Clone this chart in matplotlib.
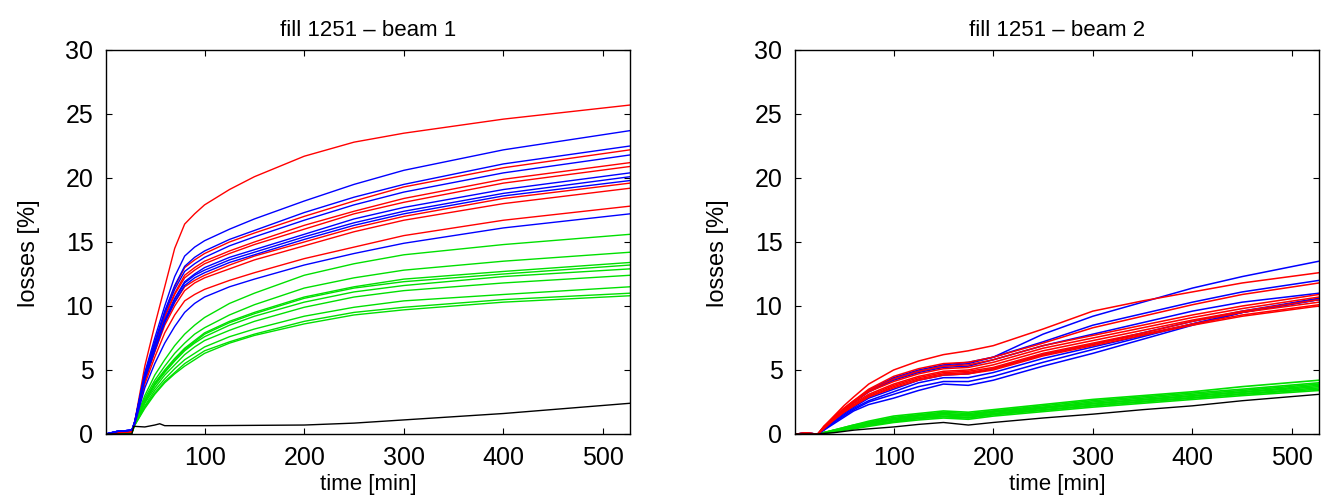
import matplotlib
matplotlib.use("Agg")
import matplotlib.pyplot as plt

plt.rcParams['font.family'] = ['Liberation Sans', 'DejaVu Sans']

# ---- beam 1 (left) ----
t_b1 = [1, 12, 27, 30, 40, 50, 60, 70, 80, 90, 100, 125, 150, 200, 250, 300, 400, 527]

b1_red = [
    [0, 0.1, 0.2, 1.0, 5.3, 8.5, 11.5, 14.5, 16.4, 17.2, 17.9, 19.1, 20.1, 21.7, 22.8, 23.5, 24.6, 25.7],
    [0, 0.1, 0.2, 1.0, 4.6, 7.1, 9.5, 11.5, 13.0, 13.6, 14.1, 15.0, 15.7, 17.0, 18.2, 19.3, 20.8, 22.2],
    [0, 0.1, 0.2, 0.9, 4.4, 6.9, 9.2, 11.0, 12.4, 13.0, 13.5, 14.3, 15.0, 16.3, 17.4, 18.4, 19.9, 21.2],
    [0, 0.1, 0.2, 0.9, 4.4, 6.8, 9.1, 10.9, 12.2, 12.8, 13.3, 14.1, 14.8, 16.0, 17.2, 18.1, 19.6, 20.9],
    [0, 0.1, 0.2, 0.9, 4.2, 6.5, 8.7, 10.3, 11.5, 12.0, 12.4, 13.2, 13.9, 15.0, 16.1, 17.0, 18.4, 19.6],
    [0, 0.1, 0.2, 0.9, 4.1, 6.4, 8.5, 10.0, 11.2, 11.8, 12.2, 12.9, 13.6, 14.7, 15.8, 16.7, 18.0, 19.2],
    [0, 0.1, 0.2, 0.8, 3.9, 6.0, 7.9, 9.3, 10.4, 10.9, 11.3, 12.0, 12.6, 13.7, 14.6, 15.5, 16.7, 17.8],
]
b1_blue = [
    [0, 0.2, 0.3, 1.0, 4.8, 7.5, 10.0, 12.3, 13.9, 14.6, 15.1, 16.0, 16.8, 18.2, 19.5, 20.6, 22.2, 23.7],
    [0, 0.2, 0.3, 1.0, 4.7, 7.2, 9.6, 11.6, 13.1, 13.8, 14.3, 15.2, 15.9, 17.3, 18.5, 19.5, 21.1, 22.5],
    [0, 0.2, 0.3, 1.0, 4.6, 7.0, 9.4, 11.3, 12.7, 13.3, 13.8, 14.7, 15.4, 16.7, 17.9, 18.9, 20.4, 21.8],
    [0, 0.2, 0.3, 0.9, 4.4, 6.7, 8.9, 10.6, 11.9, 12.5, 13.0, 13.8, 14.4, 15.6, 16.8, 17.7, 19.1, 20.4],
    [0, 0.2, 0.3, 0.9, 4.3, 6.6, 8.8, 10.5, 11.8, 12.4, 12.8, 13.6, 14.2, 15.4, 16.5, 17.4, 18.8, 20.1],
    [0, 0.2, 0.3, 0.9, 4.3, 6.5, 8.7, 10.3, 11.6, 12.2, 12.6, 13.4, 14.0, 15.2, 16.3, 17.2, 18.6, 19.8],
    [0, 0.2, 0.3, 0.8, 3.6, 5.5, 7.1, 8.4, 9.5, 10.2, 10.7, 11.5, 12.1, 13.2, 14.1, 14.9, 16.1, 17.2],
]
b1_green = [
    [0, 0, 0.1, 1.0, 3.0, 4.6, 5.8, 6.9, 7.8, 8.5, 9.1, 10.2, 11.0, 12.4, 13.3, 14.0, 14.8, 15.6],
    [0, 0, 0.1, 0.9, 2.8, 4.2, 5.3, 6.3, 7.1, 7.8, 8.3, 9.3, 10.1, 11.4, 12.2, 12.8, 13.5, 14.2],
    [0, 0, 0.1, 0.9, 2.6, 4.0, 5.0, 5.9, 6.7, 7.3, 7.9, 8.8, 9.5, 10.7, 11.5, 12.1, 12.7, 13.4],
    [0, 0, 0.1, 0.9, 2.6, 3.9, 4.9, 5.8, 6.6, 7.2, 7.8, 8.7, 9.4, 10.6, 11.4, 11.9, 12.5, 13.2],
    [0, 0, 0.1, 0.8, 2.5, 3.8, 4.8, 5.7, 6.5, 7.1, 7.6, 8.5, 9.2, 10.3, 11.1, 11.6, 12.3, 12.9],
    [0, 0, 0.1, 0.8, 2.4, 3.6, 4.6, 5.4, 6.2, 6.8, 7.3, 8.1, 8.8, 9.9, 10.7, 11.2, 11.8, 12.4],
    [0, 0, 0.1, 0.8, 2.2, 3.4, 4.3, 5.1, 5.8, 6.3, 6.8, 7.6, 8.2, 9.2, 9.9, 10.4, 10.9, 11.5],
    [0, 0, 0.1, 0.7, 2.1, 3.2, 4.1, 4.8, 5.5, 6.0, 6.5, 7.2, 7.8, 8.8, 9.5, 9.9, 10.5, 11.0],
    [0, 0, 0.1, 0.7, 2.0, 3.1, 4.0, 4.7, 5.3, 5.8, 6.3, 7.1, 7.7, 8.6, 9.3, 9.7, 10.3, 10.8],
]
t_b1_black = [1, 27, 29, 40, 50, 55, 60, 100, 200, 250, 300, 400, 527]
b1_black = [0, 0, 0.6, 0.55, 0.7, 0.8, 0.65, 0.65, 0.7, 0.85, 1.1, 1.6, 2.4]

# ---- beam 2 (right) ----
t_b2 = [1, 12, 24, 30, 40, 50, 60, 75, 100, 125, 150, 175, 200, 250, 300, 350, 400, 450, 527]

b2_red = [
    [0, 0.05, 0, 0.6, 1.4, 2.2, 2.9, 3.9, 5.0, 5.7, 6.2, 6.5, 6.9, 8.2, 9.6, 10.4, 11.1, 11.8, 12.6],
    [0, 0.05, 0, 0.5, 1.3, 2.0, 2.6, 3.5, 4.5, 5.1, 5.5, 5.6, 6.0, 7.1, 8.3, 9.2, 10.1, 10.9, 11.8],
    [0, 0.05, 0, 0.6, 1.3, 2.0, 2.6, 3.4, 4.3, 4.9, 5.3, 5.4, 5.8, 6.9, 7.7, 8.5, 9.3, 10.0, 10.9],
    [0, 0.05, 0, 0.5, 1.3, 1.9, 2.5, 3.3, 4.1, 4.7, 5.1, 5.2, 5.6, 6.7, 7.5, 8.3, 9.1, 9.8, 10.7],
    [0, 0.05, 0, 0.5, 1.2, 1.8, 2.4, 3.1, 3.9, 4.5, 4.9, 5.0, 5.4, 6.5, 7.3, 8.1, 8.9, 9.6, 10.5],
    [0, 0.05, 0, 0.5, 1.2, 1.8, 2.3, 3.0, 3.8, 4.4, 4.8, 4.9, 5.2, 6.3, 7.1, 7.9, 8.8, 9.5, 10.3],
    [0, 0.05, 0, 0.5, 1.1, 1.7, 2.2, 2.9, 3.7, 4.3, 4.7, 4.8, 5.1, 6.2, 7.0, 7.8, 8.6, 9.3, 10.1],
    [0, 0.05, 0, 0.4, 1.1, 1.7, 2.2, 2.9, 3.6, 4.2, 4.6, 4.7, 5.0, 6.1, 6.9, 7.7, 8.5, 9.2, 10.0],
]
b2_blue = [
    [0, 0.05, 0, 0.5, 1.2, 1.9, 2.5, 3.3, 4.3, 4.9, 5.3, 5.5, 6.0, 7.8, 9.2, 10.3, 11.4, 12.3, 13.5],
    [0, 0.05, 0, 0.5, 1.2, 1.9, 2.5, 3.4, 4.4, 5.0, 5.4, 5.6, 6.0, 7.2, 8.5, 9.4, 10.3, 11.1, 12.0],
    [0, 0.05, 0, 0.5, 1.2, 1.9, 2.5, 3.3, 4.2, 4.8, 5.2, 5.3, 5.8, 6.9, 7.8, 8.7, 9.6, 10.3, 11.0],
    [0, 0.05, 0, 0.4, 1.0, 1.6, 2.1, 2.8, 3.5, 4.2, 4.6, 4.7, 5.1, 6.2, 7.0, 7.9, 8.8, 9.6, 10.6],
    [0, 0.05, 0, 0.4, 0.9, 1.5, 2.0, 2.6, 3.3, 4.0, 4.4, 4.4, 4.8, 5.9, 6.8, 7.7, 8.6, 9.5, 10.5],
    [0, 0.05, 0, 0.3, 0.9, 1.4, 1.9, 2.5, 3.1, 3.7, 4.1, 4.1, 4.5, 5.6, 6.6, 7.6, 8.6, 9.5, 10.6],
    [0, 0.05, 0, 0.3, 0.8, 1.3, 1.8, 2.3, 2.8, 3.4, 3.9, 3.8, 4.2, 5.3, 6.3, 7.4, 8.5, 9.5, 10.5],
]
b2_green = [
    [0, 0, 0, 0.1, 0.3, 0.5, 0.7, 1.0, 1.4, 1.6, 1.8, 1.7, 1.9, 2.3, 2.7, 3.0, 3.3, 3.7, 4.2],
    [0, 0, 0, 0.1, 0.3, 0.5, 0.7, 0.9, 1.3, 1.5, 1.7, 1.6, 1.8, 2.2, 2.6, 2.9, 3.2, 3.5, 4.0],
    [0, 0, 0, 0.1, 0.3, 0.4, 0.6, 0.9, 1.2, 1.45, 1.6, 1.5, 1.75, 2.1, 2.5, 2.8, 3.1, 3.4, 3.9],
    [0, 0, 0, 0.1, 0.2, 0.4, 0.6, 0.8, 1.15, 1.4, 1.55, 1.45, 1.7, 2.05, 2.4, 2.7, 3.0, 3.3, 3.8],
    [0, 0, 0, 0.1, 0.2, 0.4, 0.5, 0.8, 1.1, 1.3, 1.5, 1.4, 1.6, 2.0, 2.35, 2.65, 2.95, 3.25, 3.7],
    [0, 0, 0, 0.1, 0.2, 0.35, 0.5, 0.7, 1.0, 1.25, 1.4, 1.3, 1.55, 1.9, 2.25, 2.55, 2.85, 3.15, 3.6],
    [0, 0, 0, 0.05, 0.2, 0.3, 0.45, 0.7, 0.95, 1.2, 1.35, 1.25, 1.5, 1.85, 2.2, 2.5, 2.8, 3.1, 3.5],
    [0, 0, 0, 0.05, 0.15, 0.3, 0.4, 0.6, 0.9, 1.1, 1.25, 1.15, 1.4, 1.75, 2.1, 2.4, 2.7, 3.0, 3.4],
]
b2_black = [0, 0, 0, 0.05, 0.1, 0.2, 0.3, 0.4, 0.55, 0.75, 0.9, 0.7, 0.9, 1.25, 1.55, 1.9, 2.2, 2.6, 3.1]

RED, BLUE, GREEN = '#ff0000', '#0000ff', '#00e000'


def style_axes(ax, title):
    ax.set_xlim(1, 527)
    ax.set_ylim(0, 30)
    ax.set_xticks([100, 200, 300, 400, 500])
    ax.set_yticks([0, 5, 10, 15, 20, 25, 30])
    ax.tick_params(direction='in', top=True, right=True, length=4, width=0.8,
                   labelsize=18, pad=9)
    for sp in ax.spines.values():
        sp.set_linewidth(1.0)
    ax.set_title(title, fontsize=16, pad=10)
    ax.set_xlabel('time [min]', fontsize=16)
    ax.set_ylabel('losses [%]', fontsize=17)
    ax.xaxis.set_label_coords(0.5, -0.105)
    ax.yaxis.set_label_coords(-0.125, 0.47)


fig = plt.figure(figsize=(13.21, 5.04), dpi=100)
ax1 = fig.add_axes([0.0802, 0.1389, 0.3967, 0.7619])
ax2 = fig.add_axes([0.6018, 0.1389, 0.3967, 0.7619])

for y in b1_green:
    ax1.plot(t_b1, y, color=GREEN, lw=1.0)
for y in b1_red:
    ax1.plot(t_b1, y, color=RED, lw=1.0)
for y in b1_blue:
    ax1.plot(t_b1, y, color=BLUE, lw=1.0)
ax1.plot(t_b1_black, b1_black, color='k', lw=1.0)

for y in b2_green:
    ax2.plot(t_b2, y, color=GREEN, lw=1.2)
for y in b2_blue:
    ax2.plot(t_b2, y, color=BLUE, lw=1.1)
for y in b2_red:
    ax2.plot(t_b2, y, color=RED, lw=1.1)
ax2.plot(t_b2, b2_black, color='k', lw=1.0)

style_axes(ax1, 'fill 1251 \u2013 beam 1')
style_axes(ax2, 'fill 1251 \u2013 beam 2')

fig.savefig('out.png', dpi=100)
